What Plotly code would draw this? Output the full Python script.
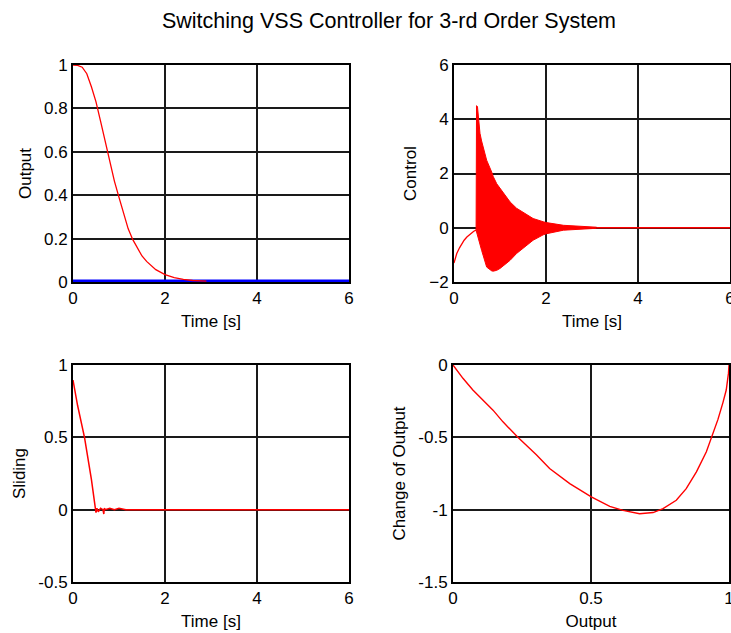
import plotly.graph_objects as go

# ---- data ----
# Output (red) vs time
out_t = [0, 0.1, 0.2, 0.3, 0.4, 0.5, 0.6, 0.7, 0.8, 0.9, 1.0, 1.1, 1.2, 1.3, 1.4, 1.5, 1.6, 1.8, 2.0, 2.2, 2.4, 2.6, 2.9]
out_y = [1.0, 0.998, 0.99, 0.96, 0.90, 0.83, 0.74, 0.645, 0.55, 0.465, 0.39, 0.315, 0.245, 0.195, 0.155, 0.12, 0.095, 0.057, 0.034, 0.02, 0.012, 0.007, 0.004]
# Reference (blue)
ref_t = [0, 6]
ref_y = [0, 0]

# Control: smooth start, chattering envelope, zero tail
ctl_start_t = [0, 0.06, 0.12, 0.17, 0.22, 0.28, 0.33, 0.38, 0.43, 0.48]
ctl_start_y = [-1.30, -0.95, -0.74, -0.58, -0.46, -0.34, -0.26, -0.19, -0.13, -0.09]
ctl_env_t = [0.48, 0.49, 0.51, 0.565, 0.6, 0.71, 0.82, 0.855, 0.93, 1.0, 1.14, 1.22, 1.36, 1.43, 1.72, 1.94, 2.01, 2.38, 2.7, 3.1]
ctl_upper = [-0.09, 4.5, 4.47, 3.48, 3.2, 2.49, 2.05, 1.88, 1.62, 1.45, 1.1, 0.95, 0.72, 0.65, 0.34, 0.22, 0.19, 0.09, 0.05, 0.02]
ctl_lower = [-0.09, -0.15, -0.3, -0.7, -0.83, -1.45, -1.59, -1.6, -1.57, -1.5, -1.32, -1.2, -0.95, -0.85, -0.46, -0.26, -0.22, -0.09, -0.05, -0.02]
ctl_tail_t = [3.1, 6]
ctl_tail_y = [0, 0]

# Sliding surface vs time
sl_t = [0, 0.1, 0.25, 0.4, 0.49, 0.5, 0.52, 0.55, 0.6, 0.65, 0.67, 0.68, 0.7, 0.8, 0.9, 1.0, 1.15, 2, 6]
sl_y = [0.896, 0.72, 0.50, 0.21, 0.0, -0.02, 0.01, -0.015, 0.01, 0.0, -0.03, 0.01, 0.0, 0.01, 0.0, 0.01, 0.0, 0.0, 0.0]

# Phase plane: change of output vs output
ph_x = [0.0, 0.036, 0.072, 0.109, 0.145, 0.181, 0.235, 0.302, 0.35, 0.423, 0.501, 0.568, 0.616, 0.676, 0.725, 0.761, 0.809, 0.845, 0.882, 0.918, 0.936, 0.96, 0.978, 0.99, 0.998, 1.0]
ph_y = [0.0, -0.092, -0.173, -0.242, -0.312, -0.393, -0.5, -0.62, -0.716, -0.82, -0.912, -0.977, -1.005, -1.028, -1.02, -0.993, -0.935, -0.855, -0.739, -0.6, -0.5, -0.376, -0.26, -0.173, -0.058, 0.0]

title_text = "Switching VSS Controller for 3-rd Order System"

RED = "#ff0000"
BLUE = "#0000ff"
FONT = "Liberation Sans, Arial, sans-serif"

fig = go.Figure()

# top-left
fig.add_trace(go.Scatter(x=ref_t, y=ref_y, mode="lines", line=dict(color=BLUE, width=5), xaxis="x", yaxis="y"))
fig.add_trace(go.Scatter(x=out_t, y=out_y, mode="lines", line=dict(color=RED, width=1.3), xaxis="x", yaxis="y"))

# top-right
fig.add_trace(go.Scatter(x=ctl_start_t, y=ctl_start_y, mode="lines", line=dict(color=RED, width=1.3), xaxis="x2", yaxis="y2"))
fig.add_trace(go.Scatter(x=ctl_env_t, y=ctl_lower, mode="lines", line=dict(color=RED, width=1), xaxis="x2", yaxis="y2"))
fig.add_trace(go.Scatter(x=ctl_env_t, y=ctl_upper, mode="lines", line=dict(color=RED, width=1), fill="tonexty", fillcolor=RED, xaxis="x2", yaxis="y2"))
fig.add_trace(go.Scatter(x=ctl_tail_t, y=ctl_tail_y, mode="lines", line=dict(color=RED, width=1.3), xaxis="x2", yaxis="y2"))

# bottom-left
fig.add_trace(go.Scatter(x=sl_t, y=sl_y, mode="lines", line=dict(color=RED, width=1.5), xaxis="x3", yaxis="y3"))

# bottom-right
fig.add_trace(go.Scatter(x=ph_x, y=ph_y, mode="lines", line=dict(color=RED, width=1.4), xaxis="x4", yaxis="y4"))

W, H = 731, 633
def xd(a, b):
    return [a / W, b / W]
def yd(top, bottom):
    return [(H - bottom) / H, (H - top) / H]

common = dict(
    showline=True, linecolor="black", linewidth=2, mirror=True,
    showgrid=True, gridcolor="#1a1a1a", gridwidth=1.5,
    zeroline=False, ticks="", tickfont=dict(size=17, color="black"),
    title_font=dict(size=17, color="black"), automargin=False,
    ticklabeloverflow="allow",
)

fig.update_layout(
    width=W, height=H,
    margin=dict(l=0, r=0, t=0, b=0),
    paper_bgcolor="white", plot_bgcolor="white",
    font=dict(family=FONT, color="black"),
    showlegend=False,
    title=dict(text=title_text, x=389 / W, xanchor="center", y=1 - 20 / H, yanchor="middle",
               font=dict(size=21.5, color="black")),
    xaxis=dict(domain=xd(73, 349), anchor="y", range=[0, 6], tickvals=[0, 2, 4, 6],
               title=dict(text="Time [s]", standoff=8), layer="below traces", **common),
    yaxis=dict(domain=yd(65, 282), anchor="x", range=[0, 1], tickvals=[0, 0.2, 0.4, 0.6, 0.8, 1],
               ticktext=["0", "0.2", "0.4", "0.6", "0.8", "1"], layer="below traces",
               title=dict(text="Output", standoff=8), **common),
    xaxis2=dict(domain=xd(454, 730), anchor="y2", range=[0, 6], tickvals=[0, 2, 4, 6],
                title=dict(text="Time [s]", standoff=8), **common),
    yaxis2=dict(domain=yd(65, 282), anchor="x2", range=[-2, 6], tickvals=[-2, 0, 2, 4, 6],
                title=dict(text="Control", standoff=8), **common),
    xaxis3=dict(domain=xd(73, 349), anchor="y3", range=[0, 6], tickvals=[0, 2, 4, 6],
                title=dict(text="Time [s]", standoff=8), **common),
    yaxis3=dict(domain=yd(365, 582), anchor="x3", range=[-0.5, 1], tickvals=[-0.5, 0, 0.5, 1],
                ticktext=["-0.5", "0", "0.5", "1"],
                title=dict(text="Sliding", standoff=8), **common),
    xaxis4=dict(domain=xd(453, 729), anchor="y4", range=[0, 1], tickvals=[0, 0.5, 1],
                ticktext=["0", "0.5", "1"],
                title=dict(text="Output", standoff=8), **common),
    yaxis4=dict(domain=yd(365, 582), anchor="x4", range=[-1.5, 0], tickvals=[-1.5, -1, -0.5, 0],
                ticktext=["-1.5", "-1", "-0.5", "0"],
                title=dict(text="Change of Output", standoff=8), **common),
)

fig.write_html(
    "out.html",
    config={"displayModeBar": False},
    post_script="document.body.style.margin='0';document.body.style.overflow='hidden';",
)
